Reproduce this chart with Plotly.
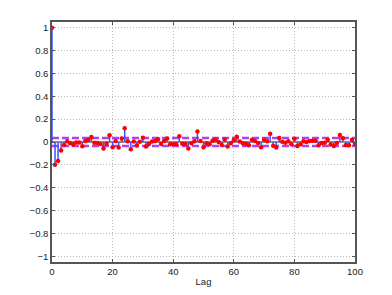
import plotly.graph_objects as go

# sample autocorrelation, lags 0..100
lags = list(range(101))
acf = [
    1.0, -0.200, -0.167, -0.075, -0.026, 0.007, -0.010, -0.022, -0.005, -0.005,
    -0.038, 0.008, 0.020, 0.043, -0.007, -0.008, -0.017, -0.056, -0.016, 0.060,
    -0.046, 0.008, -0.049, 0.030, 0.120, 0.006, -0.063, 0.005, -0.030, 0.003,
    0.038, -0.040, -0.017, 0.005, 0.008, 0.025, -0.018, 0.009, 0.030, -0.019,
    -0.019, -0.019, 0.050, -0.015, -0.017, -0.056, -0.010, 0.007, 0.091, 0.008,
    -0.047, -0.010, -0.019, 0.012, 0.021, 0.000, -0.027, 0.022, -0.040, -0.012,
    0.015, 0.045, 0.005, -0.010, -0.016, -0.028, 0.019, 0.008, -0.008, -0.047,
    0.019, 0.007, 0.072, -0.032, -0.048, 0.034, 0.002, -0.007, 0.006, -0.020,
    0.029, -0.035, -0.019, 0.006, 0.000, 0.008, 0.012, 0.012, -0.028, -0.008,
    -0.007, 0.020, -0.022, -0.035, -0.009, 0.062, 0.033, -0.027, -0.028, 0.020,
    -0.015,
]
bound = 0.034  # confidence bound
x_ticks = [0, 20, 40, 60, 80, 100]
y_ticks = [-1, -0.8, -0.6, -0.4, -0.2, 0, 0.2, 0.4, 0.6, 0.8, 1]

# stems as one broken line
stem_x, stem_y = [], []
for k, v in zip(lags, acf):
    stem_x += [k, k, None]
    stem_y += [0, v, None]

fig = go.Figure()
# baseline
fig.add_trace(go.Scatter(x=[lags[0], lags[-1]], y=[0, 0], mode='lines',
                         line=dict(color='#909090', width=2), hoverinfo='skip'))
# confidence bounds
for b in (bound, -bound):
    fig.add_trace(go.Scatter(x=[lags[0], lags[-1]], y=[b, b], mode='lines',
                             line=dict(color='#b040f0', width=2.5, dash='7px,3px'),
                             hoverinfo='skip'))
fig.add_trace(go.Scatter(x=stem_x, y=stem_y, mode='lines',
                         line=dict(color='#3355ff', width=1.5), hoverinfo='skip'))
fig.add_trace(go.Scatter(x=lags, y=acf, mode='markers',
                         marker=dict(color='#ff0000', size=4.5)))

axis_style = dict(showline=True, linecolor='#555555', linewidth=1.5, mirror='allticks',
                  ticks='inside', ticklen=3, tickcolor='#555555', automargin=False,
                  showgrid=True, gridcolor='#b8b8b8', griddash='1px,2px', gridwidth=1,
                  zeroline=False, tickfont=dict(size=9.5, color='#222222'))

# page body adds an 8px offset, so the figure is a bit smaller than the window
fig.update_layout(
    width=384, height=287,
    margin=dict(l=44, r=37, t=14, b=33),
    paper_bgcolor='white', plot_bgcolor='white',
    showlegend=False,
    font=dict(family='Liberation Sans, Arial, sans-serif', size=9.5, color='#222222'),
    xaxis=dict(range=[0, 100], tickvals=x_ticks,
               title=dict(text='Lag', font=dict(size=9.5), standoff=2), **axis_style),
    yaxis=dict(range=[-1.05, 1.05], tickvals=y_ticks, **axis_style),
)

fig.write_html("out.html")
